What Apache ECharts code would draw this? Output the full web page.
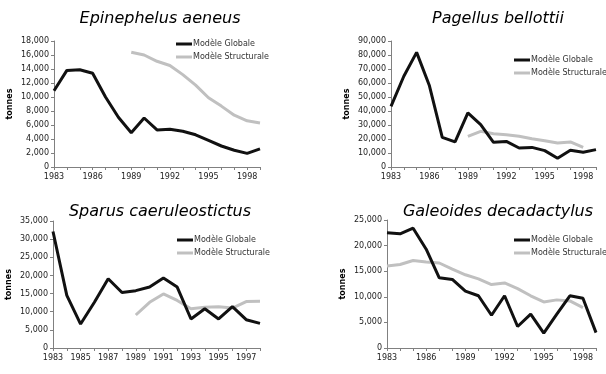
<!DOCTYPE html>
<html><head><meta charset="utf-8">
<script src="https://cdn.jsdelivr.net/npm/echarts@6/dist/echarts.min.js"></script>
<style>html,body{margin:0;padding:0;background:#fff}#c{width:606px;height:374px}</style>
</head><body><div id="c"></div>
<script>
const years1 = ['1983','1984','1985','1986','1987','1988','1989','1990','1991','1992','1993','1994','1995','1996','1997','1998','1999'];
const years3 = ['1983','1984','1985','1986','1987','1988','1989','1990','1991','1992','1993','1994','1995','1996','1997','1998'];

const titles = ['Epinephelus aeneus','Pagellus bellottii','Sparus caeruleostictus','Galeoides decadactylus'];
const legendNames = ['Modèle Globale','Modèle Structurale'];

const epiGlobale = [10900,13800,13900,13400,10000,7100,4900,7000,5300,5400,5100,4600,3800,3000,2400,1950,2600];
const epiStruct  = [null,null,null,null,null,null,16400,16000,15100,14500,13200,11700,9900,8700,7400,6600,6300];

const pagGlobale = [43300,64800,81900,58000,21200,17900,38600,30200,17600,18300,13600,14000,11700,6200,11900,10500,12400];
const pagStruct  = [null,null,null,null,null,null,21900,25500,23800,23100,21900,20200,18800,17100,17900,14000,null];

const spaGlobale = [32100,14500,6600,12600,19100,15300,15800,16800,19300,16800,8000,10800,8000,11400,7800,6800];
const spaStruct  = [null,null,null,null,null,null,9100,12600,14900,13100,10800,11200,11400,11000,12800,12900];

const galGlobale = [22500,22300,23400,19300,13700,13400,11100,10200,6400,10200,4200,6600,2900,6600,10200,9700,3000];
const galStruct  = [16000,16300,17100,16800,16600,15400,14300,13500,12400,12700,11600,10200,9000,9400,9200,7900,null];

const yMax = [18000,90000,35000,25000];
const yInt = [2000,10000,5000,5000];

const FONT = 'DejaVu Sans';
const grids = [
  {left:54, top:41, width:206, height:126},
  {left:391, top:41, width:205, height:126},
  {left:53, top:221, width:207, height:127},
  {left:387, top:220, width:209, height:128}
];
const titlePos = [[155,6],[493,6],[155,199],[493,199]];
const legendPos = [[171,35],[509,51],[172,231],[509,231]];
const cats = [years1, years1, years3, years1];
const labelInt = [2,2,1,2];
const dataG = [epiGlobale,pagGlobale,spaGlobale,galGlobale];
const dataS = [epiStruct,pagStruct,spaStruct,galStruct];

const fmt = v => String(v).replace(/\B(?=(\d{3})+(?!\d))/g, ',');

const option = {
  animation:false,
  backgroundColor:'#fff',
  title: titles.map((t,i)=>({text:t,left:titlePos[i][0],top:titlePos[i][1],textAlign:'center',
    textStyle:{fontFamily:FONT,fontStyle:'italic',fontWeight:'normal',fontSize:16,color:'#000'}})),
  legend: [0,1,2,3].map(i=>({
    left:legendPos[i][0], top:legendPos[i][1], orient:'vertical', itemGap:5,
    itemWidth:16, itemHeight:3, icon:'rect',
    data:[{name:legendNames[0]+'\u200b'.repeat(i)},{name:legendNames[1]+'\u200b'.repeat(i)}],
    textStyle:{fontFamily:FONT,fontSize:8,color:'#333',padding:[0,0,0,-4]},
    formatter: n => n.replace(/\u200b/g,'')
  })),
  grid: grids,
  xAxis: [0,1,2,3].map(i=>({
    type:'category', gridIndex:i, data:cats[i], boundaryGap:false,
    axisLine:{lineStyle:{color:'#808080',width:1}},
    axisTick:{show:true,interval:0,length:3,lineStyle:{color:'#808080'}},
    axisLabel:{interval:labelInt[i],fontFamily:FONT,fontSize:8,color:'#222',margin:6}
  })),
  yAxis: [0,1,2,3].map(i=>({
    type:'value', gridIndex:i, min:0, max:yMax[i], interval:yInt[i],
    name:'tonnes', nameLocation:'middle', nameRotate:90, nameGap:40,
    nameTextStyle:{fontFamily:FONT,fontSize:8,fontWeight:'bold',color:'#000'},
    splitLine:{show:false},
    axisLine:{show:true,lineStyle:{color:'#808080',width:1}},
    axisTick:{show:true,length:3,lineStyle:{color:'#808080'}},
    axisLabel:{fontFamily:FONT,fontSize:8,color:'#222',margin:5,formatter:fmt}
  })),
  series: [0,1,2,3].flatMap(i=>[
    {name:legendNames[0]+'\u200b'.repeat(i), type:'line', xAxisIndex:i, yAxisIndex:i, data:dataG[i],
      showSymbol:false, symbol:'none', lineStyle:{color:'#111',width:3}, itemStyle:{color:'#111'}},
    {name:legendNames[1]+'\u200b'.repeat(i), type:'line', xAxisIndex:i, yAxisIndex:i, data:dataS[i],
      showSymbol:false, symbol:'none', lineStyle:{color:'#c0c0c0',width:3}, itemStyle:{color:'#c0c0c0'}, z:1}
  ])
};
echarts.init(document.getElementById('c'),null,{renderer:'canvas'}).setOption(option);
</script></body></html>
